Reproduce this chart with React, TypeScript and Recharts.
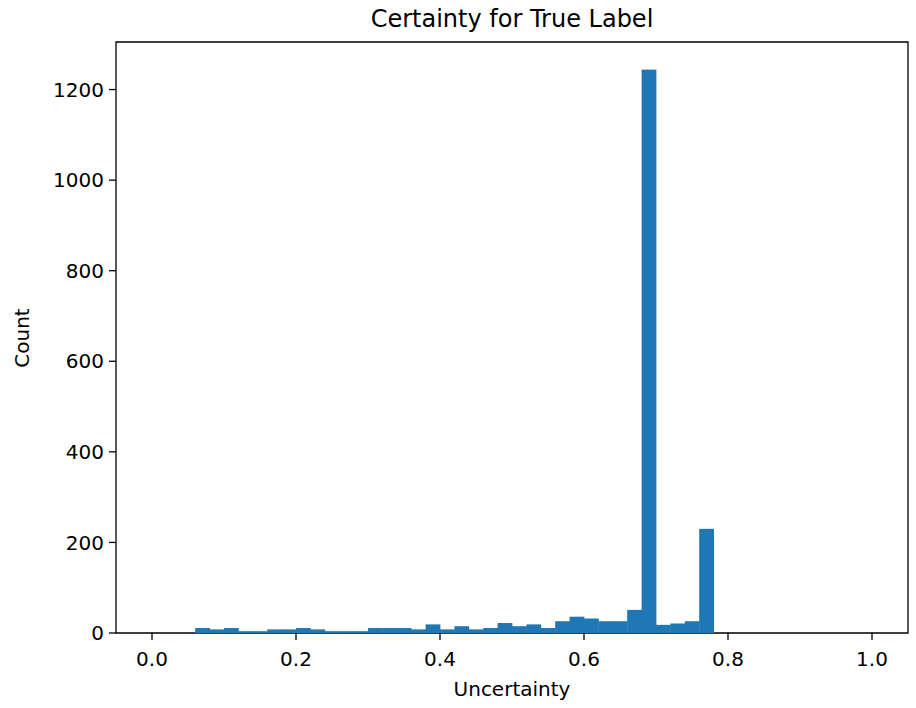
import { ComposedChart, Bar, XAxis, YAxis, ReferenceArea } from 'recharts';

// histogram bins, left edges, width 0.02
const BIN_WIDTH = 0.02;
const binStarts = Array.from({ length: 50 }, (_, i) => +(i * BIN_WIDTH).toFixed(2));
const counts = [
  0, 0, 0, 11, 8, 11, 4, 4, 8, 8,
  11, 8, 4, 4, 4, 11, 11, 11, 8, 19,
  8, 15, 8, 11, 22, 15, 19, 11, 26, 36,
  32, 26, 26, 51, 1244, 18, 21, 26, 230, 0,
  0, 0, 0, 0, 0, 0, 0, 0, 0, 0,
];
const xTicks = [0, 0.2, 0.4, 0.6, 0.8, 1.0];
const yTicks = [0, 200, 400, 600, 800, 1000, 1200];
const X_DOMAIN: [number, number] = [-0.05, 1.05];
const Y_DOMAIN: [number, number] = [0, 1305];

const data = binStarts.map((s, i) => ({ x: s + BIN_WIDTH / 2, count: counts[i] }));

const FONT = '"DejaVu Sans", sans-serif';
const INK = '#000';
const BLUE = '#1f77b4';
const TICK = { fontSize: 20, fill: INK, fontFamily: FONT };

// histogram bars touch each other, so widen each a little to close the seams
function HistBar(props: any) {
  const { x, y, width, height } = props;
  if (!height || height <= 0) return null;
  return <rect x={x} y={y} width={width + 0.8} height={height} fill={BLUE} />;
}

export default function App() {
  return (
    <div style={{ position: 'absolute', left: 0, top: 0, width: 916, height: 708, background: '#fff' }}>
      <ComposedChart width={916} height={708} data={data} barGap={0} barCategoryGap={0}
        margin={{ top: 42, right: 8, bottom: 45, left: 0 }}>
        <XAxis dataKey="x" type="number" domain={X_DOMAIN} ticks={xTicks}
          tickFormatter={(v: number) => v.toFixed(1)} tick={TICK} height={30}
          axisLine={false} tickLine={{ stroke: INK, strokeWidth: 1.3 }} tickSize={7} tickMargin={12}
          allowDataOverflow />
        <YAxis domain={Y_DOMAIN} ticks={yTicks} tick={TICK} width={116}
          axisLine={false} tickLine={{ stroke: INK, strokeWidth: 1.3 }} tickSize={7} tickMargin={5}
          allowDataOverflow />
        <Bar dataKey="count" fill={BLUE} shape={HistBar} isAnimationActive={false} />
        <ReferenceArea x1={X_DOMAIN[0]} x2={X_DOMAIN[1]} y1={Y_DOMAIN[0]} y2={Y_DOMAIN[1]}
          fill="none" fillOpacity={0} stroke={INK} strokeWidth={1.3} />
      </ComposedChart>
      <svg width={916} height={708} style={{ position: 'absolute', left: 0, top: 0, pointerEvents: 'none' }}>
        <text x={512} y={27} textAnchor="middle" fontSize={24} fontFamily={FONT} fill={INK}>
          Certainty for True Label
        </text>
        <text x={512} y={696} textAnchor="middle" fontSize={20} fontFamily={FONT} fill={INK}>
          Uncertainty
        </text>
        <text x={29} y={338} textAnchor="middle" fontSize={20} fontFamily={FONT} fill={INK}
          transform="rotate(-90 29 338)">
          Count
        </text>
      </svg>
    </div>
  );
}
